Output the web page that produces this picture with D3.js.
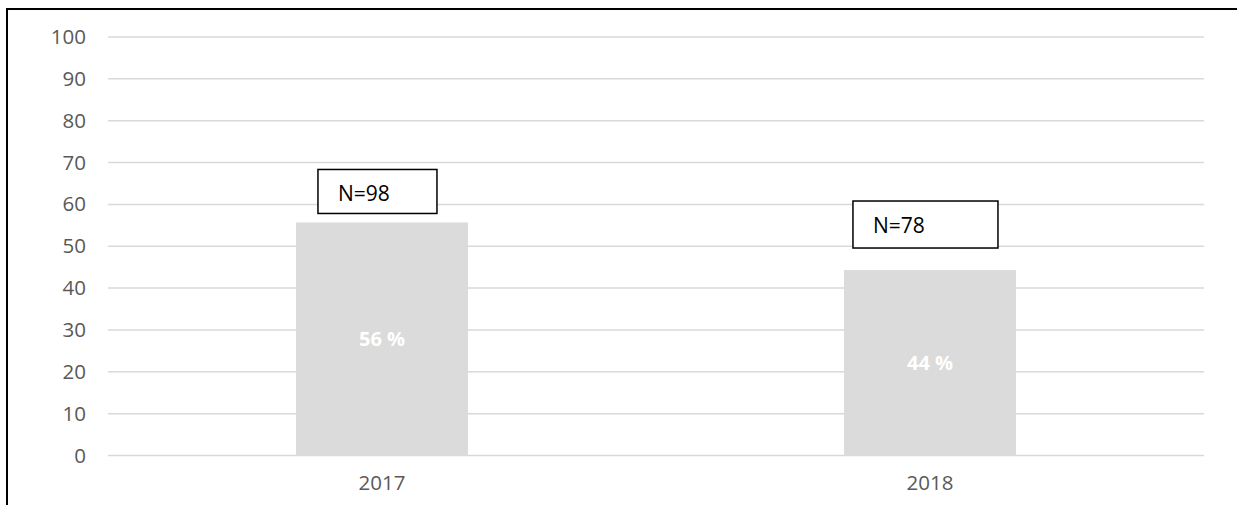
<!DOCTYPE html>
<html>
<head>
<meta charset="utf-8">
<script src="https://cdn.jsdelivr.net/npm/d3@7"></script>
<style>
	body { margin: 0; background: #fff; }
	svg { display: block; font-family: "Open Sans", "Liberation Sans", Arial, sans-serif; }
</style>
</head>
<body>
<div id="chart"></div>
<script>
// share of cases per year, with N as annotation
var years = ['2017', '2018'];
var shares = [55.68, 44.32];
var counts = [98, 78];
var yTicks = [0, 10, 20, 30, 40, 50, 60, 70, 80, 90, 100];

var width = 1237, height = 505;
var svg = d3.select('#chart').append('svg')
	.attr('width', width).attr('height', height);

// frame of the pasted chart: left and top edge only
svg.append('path')
	.attr('d', 'M7,' + height + 'V9H' + width)
	.attr('fill', 'none')
	.attr('stroke', '#000')
	.attr('stroke-width', 2);

var x = d3.scaleBand().domain(years).range([108, 1204]).paddingInner(0).paddingOuter(0);
var y = d3.scaleLinear().domain([0, 100]).range([455.5, 37]);
var barW = x.bandwidth() * 0.314;

// grid
svg.append('g').selectAll('line')
	.data(yTicks).enter().append('line')
	.attr('x1', 108).attr('x2', 1204)
	.attr('y1', function (d) { return y(d); })
	.attr('y2', function (d) { return y(d); })
	.attr('stroke', '#d9d9d9')
	.attr('stroke-width', 1.5);

// y axis labels
var yAxis = d3.axisLeft(y).tickValues(yTicks).tickSize(0).tickPadding(0);
svg.append('g')
	.attr('transform', 'translate(86,0)')
	.call(yAxis)
	.call(function (g) {
		g.select('.domain').remove();
		g.selectAll('text').attr('fill', '#595959').style('font-size', '20.5px')
			.style('font-family', '"Open Sans", Arial, sans-serif');
	});

// x axis labels
var xAxis = d3.axisBottom(x).tickSize(0).tickPadding(0);
svg.append('g')
	.attr('transform', 'translate(0,475)')
	.call(xAxis)
	.call(function (g) {
		g.select('.domain').remove();
		g.selectAll('text').attr('fill', '#595959').style('font-size', '20.5px')
			.style('font-family', '"Open Sans", Arial, sans-serif');
	});

var rows = years.map(function (yr, i) { return {year: yr, value: shares[i], n: counts[i]}; });

// bars
svg.append('g').selectAll('rect')
	.data(rows).enter().append('rect')
	.attr('x', function (d) { return x(d.year) + (x.bandwidth() - barW) / 2; })
	.attr('y', function (d) { return y(d.value); })
	.attr('width', barW)
	.attr('height', function (d) { return y(0) - y(d.value); })
	.attr('fill', '#dbdbdb');

// value labels inside bars
svg.append('g').selectAll('text')
	.data(rows).enter().append('text')
	.attr('x', function (d) { return x(d.year) + x.bandwidth() / 2; })
	.attr('y', function (d) { return y(d.value / 2); })
	.attr('dy', '0.35em')
	.attr('text-anchor', 'middle')
	.attr('fill', '#fff')
	.style('font-weight', 'bold')
	.style('font-size', '20px')
	.text(function (d) { return Math.round(d.value) + ' %'; });

// N= text boxes, placed by hand over each bar like the original
var boxes = [
	{dx: 22, w: 119, h: 44, gap: 9},
	{dx: 9, w: 145, h: 47, gap: 22}
];
var ann = svg.append('g').selectAll('g')
	.data(rows).enter().append('g')
	.attr('transform', function (d, i) {
		var b = boxes[i],
			bx = x(d.year) + (x.bandwidth() - barW) / 2 + b.dx,
			by = y(d.value) - b.gap - b.h;
		return 'translate(' + bx + ',' + by + ')';
	});
ann.append('rect')
	.attr('width', function (d, i) { return boxes[i].w; })
	.attr('height', function (d, i) { return boxes[i].h; })
	.attr('fill', '#fff')
	.attr('stroke', '#000')
	.attr('stroke-width', 1.5);
ann.append('text')
	.attr('x', 20)
	.attr('y', 32)
	.attr('fill', '#000')
	.style('font-size', '21px')
	.text(function (d) { return 'N=' + d.n; });
</script>
</body>
</html>
